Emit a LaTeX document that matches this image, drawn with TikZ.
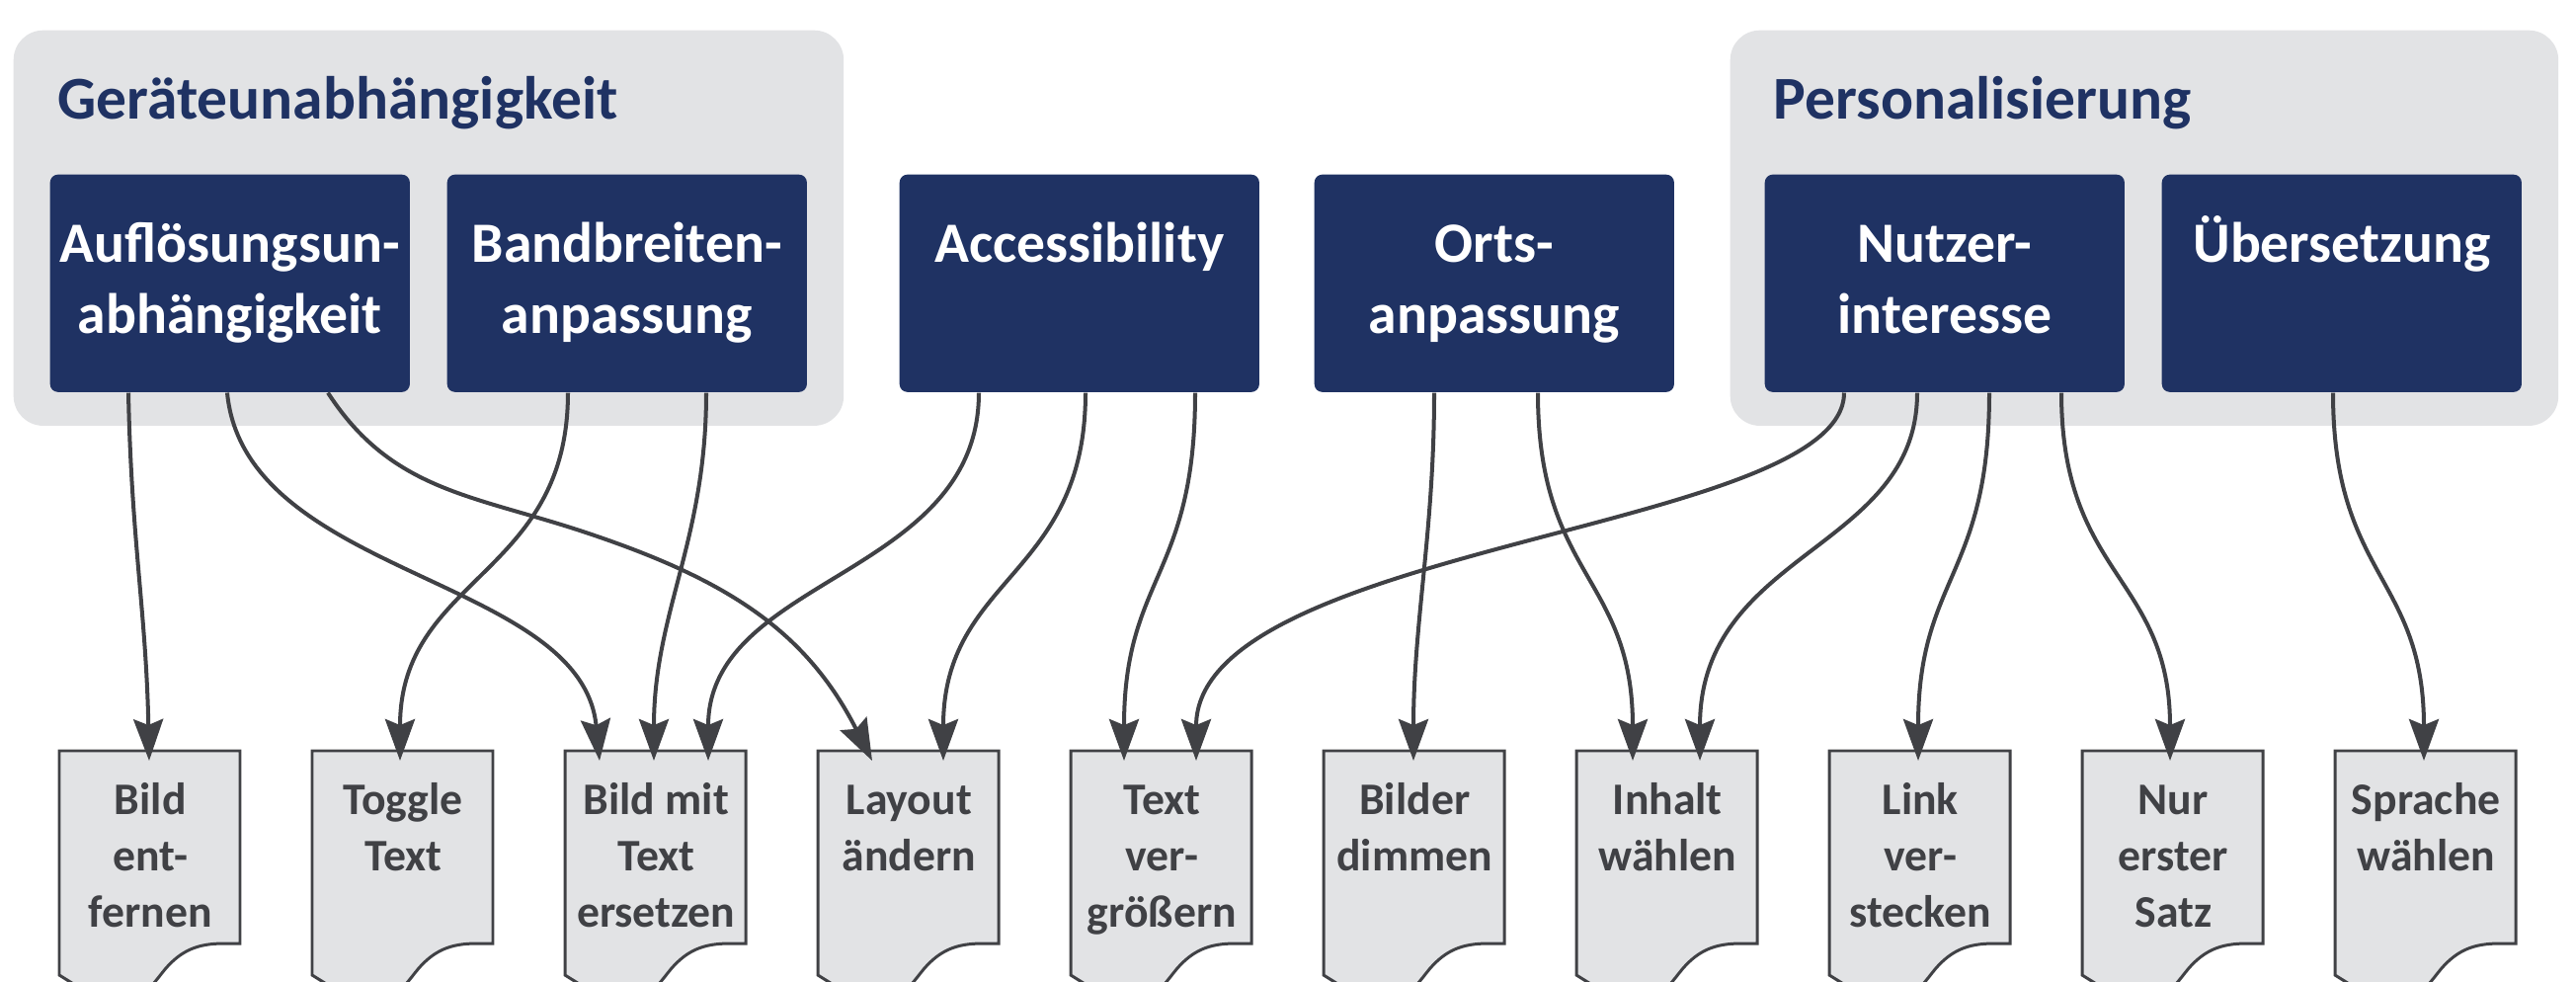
\documentclass[tikz,border=0pt]{standalone}
\usepackage{fontspec}
\setmainfont{Carlito}
\usetikzlibrary{arrows.meta,calc,backgrounds}
\definecolor{boxblue}{RGB}{31,50,99}
\definecolor{panelgray}{RGB}{226,227,229}
\definecolor{inkgray}{RGB}{64,65,69}
\newcommand{\doctext}[1]{\parbox[t][2.5cm][t]{1.83cm}{\centering\vspace*{0.235cm}\strut #1}}
\begin{document}
\begin{tikzpicture}[x=0.01cm, y=-0.01cm,
  groupbox/.style={fill=panelgray, rounded corners=0.3cm, inner sep=0pt,
    minimum width=8.4cm, minimum height=4.0cm, anchor=north west},
  grouptitle/.style={font=\fontsize{17.5}{20}\selectfont\bfseries, text=boxblue,
    anchor=base west, inner sep=0pt},
  catbox/.style={fill=boxblue, rounded corners=0.08cm, minimum width=3.64cm,
    minimum height=2.2cm, inner sep=0pt, anchor=north west, text=white,
    align=center, font=\fontsize{16.4}{20.5}\selectfont\bfseries},
  docbox/.style={inner sep=0pt, anchor=north west, text=inkgray,
    font=\fontsize{13}{16.2}\selectfont\bfseries},
  docshape/.style={fill=panelgray, draw=inkgray, line width=0.85pt},
  link/.style={draw=inkgray, line width=1.14pt,
    -{Stealth[length=0.42cm,width=0.3cm,inset=0.06cm]}}]
\useasboundingbox (0,0) rectangle (2608,994);

% category panels
\node[groupbox] (g1) at (13,30) {};
\node[groupbox, minimum width=8.38cm] (g2) at (1751,30) {};
\node[grouptitle] (t1) at (58,121) {Geräteunabhängigkeit};
\node[grouptitle] (t2) at (1795,121) {Personalisierung};

% requirement boxes
\node[catbox] (b1) at (50,176)   {\strut Auflösungsun-\\\strut abhängigkeit};
\node[catbox] (b2) at (452,176)  {\strut Bandbreiten-\\\strut anpassung};
\node[catbox] (b3) at (910,176)  {\strut Accessibility\\\strut};
\node[catbox] (b4) at (1330,176) {\strut Orts-\\\strut anpassung};
\node[catbox] (b5) at (1786,176) {\strut Nutzer-\\\strut interesse};
\node[catbox] (b6) at (2188,176) {\strut Übersetzung\\\strut};

% adaptation documents
\node[docbox] (d0) at (60,760)   {\doctext{Bild\\ent-\\fernen}};
\node[docbox] (d1) at (316,760)  {\doctext{Toggle\\Text}};
\node[docbox] (d2) at (572,760)  {\doctext{Bild mit\\Text\\ersetzen}};
\node[docbox] (d3) at (828,760)  {\doctext{Layout\\ändern}};
\node[docbox] (d4) at (1084,760) {\doctext{Text\\ver-\\größern}};
\node[docbox] (d5) at (1340,760) {\doctext{Bilder\\dimmen}};
\node[docbox] (d6) at (1596,760) {\doctext{Inhalt\\wählen}};
\node[docbox] (d7) at (1852,760) {\doctext{Link\\ver-\\stecken}};
\node[docbox] (d8) at (2108,760) {\doctext{Nur\\erster\\Satz}};
\node[docbox] (d9) at (2364,760) {\doctext{Sprache\\wählen}};

% document outlines with wavy lower edge
\begin{pgfonlayer}{background}
\foreach \i in {0,...,9} {
  \begin{scope}[shift={(d\i.north west)}]
    \path[docshape] (0,0) -- (183,0) -- (183,195) -- (167,195)
      .. controls (140,195) and (124,202) .. (108,220)
      .. controls (98,232) and (90,245) .. (75,252)
      -- (16,252) -- (16,237) -- (0,227) -- cycle;
  \end{scope}
}
\end{pgfonlayer}

% connectors
\coordinate (m3) at (590,538);
\draw[link] ($(b1.south west)+(80,0)$) .. controls +(3,150) and +(-3,-150) .. ($(d0.north west)+(91,10)$);
\draw[link] ($(b1.south west)+(180,0)$) .. controls +(18,187) and +(-18,-187) .. ($(d2.north west)+(35,10)$);
\draw[link] ($(b1.south west)+(282,0)$) .. controls +(64,99) and +(-112,-37) .. (m3)
  .. controls +(142,47) and +(-68,-134) .. ($(d3.north west)+(55,10)$);
\draw[link] ($(b2.south west)+(123,0)$) .. controls +(0,187) and +(0,-187) .. ($(d1.north west)+(89,10)$);
\draw[link] ($(b2.south west)+(263,0)$) .. controls +(0,150) and +(0,-150) .. ($(d2.north west)+(90,10)$);
\draw[link] ($(b3.south west)+(81,0)$) .. controls +(0,187) and +(0,-187) .. ($(d2.north west)+(145,10)$);
\draw[link] ($(b3.south west)+(189,0)$) .. controls +(0,187) and +(0,-187) .. ($(d3.north west)+(127,10)$);
\draw[link] ($(b3.south west)+(300,0)$) .. controls +(0,187) and +(0,-187) .. ($(d4.north west)+(54,10)$);
\draw[link] ($(b5.south west)+(81,0)$) .. controls +(0,140) and +(0,-220) .. ($(d4.north west)+(127,10)$);
\draw[link] ($(b4.south west)+(122,0)$) .. controls +(0,140) and +(0,-140) .. ($(d5.north west)+(91,10)$);
\draw[link] ($(b4.south west)+(227,0)$) .. controls +(0,187) and +(0,-187) .. ($(d6.north west)+(57,10)$);
\draw[link] ($(b5.south west)+(155,0)$) .. controls +(0,160) and +(0,-213) .. ($(d6.north west)+(125,10)$);
\draw[link] ($(b5.south west)+(228,0)$) .. controls +(0,187) and +(0,-187) .. ($(d7.north west)+(90,10)$);
\draw[link] ($(b5.south west)+(301,0)$) .. controls +(0,187) and +(0,-187) .. ($(d8.north west)+(89,10)$);
\draw[link] ($(b6.south west)+(174,0)$) .. controls +(0,187) and +(0,-187) .. ($(d9.north west)+(90,10)$);
\end{tikzpicture}
\end{document}
